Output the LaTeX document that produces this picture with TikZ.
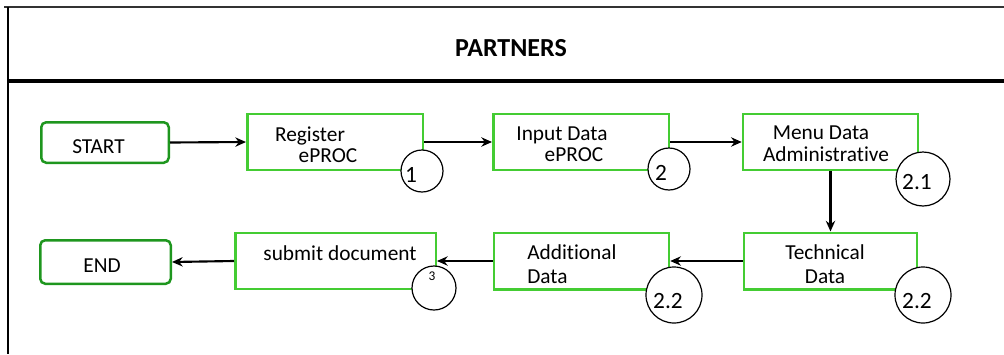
\documentclass[tikz,border=0pt]{standalone}
\usepackage{fontspec}
\setmainfont{Carlito}[Ligatures=NoCommon]
\usetikzlibrary{arrows.meta}
\newdimen\upx \upx=0.75pt
\definecolor{procgreen}{RGB}{68,204,51}
\definecolor{termgreen}{RGB}{30,150,30}
\tikzset{
  proc/.style={draw=procgreen, line width=2.5\upx, rectangle, inner sep=0pt},
  term/.style={draw=termgreen, line width=2.5\upx, rectangle, rounded corners=5\upx, inner sep=0pt},
  numring/.style={draw=black, fill=white, circle, line width=1.2\upx, inner sep=0pt},
  flow/.style={-{Stealth[length=8pt,width=7pt]}, line width=1.6pt, black},
  lbl/.style={anchor=base, inner sep=0pt, font=\fontsize{16}{19}\selectfont},
  digit/.style={anchor=base, inner sep=0pt, font=\fontsize{17.5}{20}\selectfont},
}
\begin{document}
\begin{tikzpicture}[x=0.75pt, y=-0.75pt]
\useasboundingbox (0,0) rectangle (1004,354);
% frame of the lane
\draw[line width=2\upx, black!80] (4,7) -- (1004,7);
\draw[line width=2\upx] (8,7) -- (8,354);
\draw[line width=4\upx] (8,81) -- (1004,81);
\node[anchor=base, inner sep=0pt, font=\fontsize{19.5}{22}\selectfont\bfseries] (title) at (511,56) {PARTNERS};

% terminals and process boxes
\node[term, minimum width=127.5\upx, minimum height=40.5\upx] (start) at (105,142.5) {};
\node[proc, minimum width=175.5\upx, minimum height=56\upx] (reg) at (335,142) {};
\node[proc, minimum width=175.5\upx, minimum height=56\upx] (inp) at (581,142) {};
\node[proc, minimum width=175\upx, minimum height=56\upx] (menu) at (830.5,142) {};
\node[proc, minimum width=173\upx, minimum height=56.5\upx] (tech) at (830.5,261) {};
\node[proc, minimum width=175\upx, minimum height=56.5\upx] (add) at (581.5,261) {};
\node[proc, minimum width=200.5\upx, minimum height=56\upx] (sub) at (335.5,261) {};
\node[term, minimum width=130.5\upx, minimum height=43.5\upx] (end) at (105.5,262) {};

% connectors
\draw[flow] (start.east) -- (reg.west);
\draw[flow] (reg.east) -- (inp.west);
\draw[flow] (inp.east) -- (menu.west);
\draw[flow] (menu.south) -- (tech.north);
\draw[flow] (tech.west) -- (add.east);
\draw[flow] (add.west) -- (sub.east);
\draw[flow] (sub.west) -- (end.east);

% numbered rings
\node[numring, minimum size=42\upx] (n1) at (422,171) {};
\node[numring, minimum size=42\upx] (n2) at (669,169) {};
\node[numring, minimum size=54\upx] (n21) at (923,179) {};
\node[numring, minimum size=56\upx] (n22b) at (923,295) {};
\node[numring, minimum size=56\upx] (n22a) at (674,295) {};
\node[numring, minimum size=44\upx] (n3) at (434,288) {};

% box texts
\node[lbl] at (98.5,153) {START};
\node[lbl] at (310,141) {Register};
\node[lbl] at (328,162) {ePROC};
\node[lbl] at (562,140) {Input Data};
\node[lbl] at (574,161) {ePROC};
\node[lbl] at (821,139) {Menu Data};
\node[lbl] at (826,161) {Administrative};
\node[lbl] at (825,259) {Technical};
\node[lbl] at (825,283) {Data};
\node[lbl, anchor=base west] at (527,259) {Additional};
\node[lbl, anchor=base west] at (527,283) {Data};
\node[lbl] at (340,260) {submit document};
\node[lbl] at (102,272) {END};

% ring numbers
\node[digit] at (411,182) {1};
\node[digit] at (661,180) {2};
\node[digit] at (917,189) {2.1};
\node[digit] at (917,308) {2.2};
\node[digit] at (668,308) {2.2};
\node[anchor=base, inner sep=0pt, font=\fontsize{10}{12}\selectfont] at (432,280) {3};
\end{tikzpicture}
\end{document}
